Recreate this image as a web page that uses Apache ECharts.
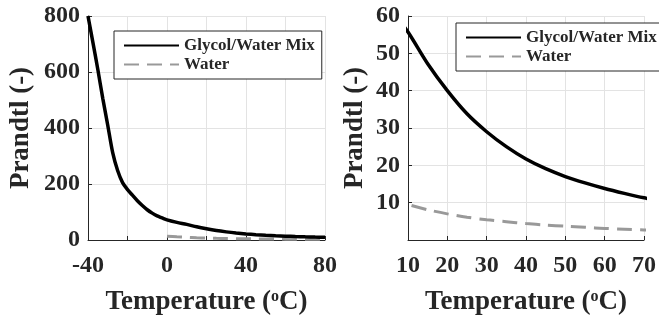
<!DOCTYPE html>
<html>
<head>
<meta charset="utf-8">
<script src="https://cdn.jsdelivr.net/npm/echarts@6/dist/echarts.min.js"></script>
<style>
html,body{margin:0;padding:0;background:#fff;}
#chart{width:659px;height:321px;}
</style>
</head>
<body>
<div id="chart"></div>
<script>
// ---- data ----
const glycolTemp = [-40, -37.5, -35, -32.5, -30, -27.5, -25, -22.5, -20, -17.5, -15, -12.5, -10, -7.5, -5, -2.5, 0, 5, 10, 15, 20, 25, 30, 35, 40, 45, 50, 55, 60, 65, 70, 75, 80];
const glycolPr   = [800, 705, 608, 505, 410, 312, 248, 205, 180, 160, 140, 123, 108, 96, 86, 79, 72, 63, 55.7, 47.2, 40, 33.8, 29, 25, 21.7, 19.1, 17, 15.3, 13.8, 12.5, 11.3, 10.3, 9.5];
const waterTemp  = [0, 5, 10, 15, 20, 25, 30, 35, 40, 45, 50, 55, 60, 65, 70, 75, 80];
const waterPr    = [13.5, 11.2, 9.5, 8.1, 7.0, 6.1, 5.4, 4.9, 4.4, 4.0, 3.7, 3.4, 3.1, 2.9, 2.7, 2.5, 2.3];
const seriesNames = ['Glycol/Water Mix', 'Water'];
const leftXTicks  = {min: -40, max: 80, interval: 20, labelEvery: 40};
const leftYTicks  = {min: 0, max: 800, interval: 200};
const rightXTicks = {min: 10, max: 70, interval: 10};
const rightYTicks = {min: 0, max: 60, interval: 10};
const xTitle = 'Temperature (';
const yTitle = 'Prandtl (-)';

const pairs = (xs, ys) => xs.map((x, i) => [x, ys[i]]);
const FONT = 'Liberation Serif';
const TXT = '#262626';
const GRIDC = '#e3e3e3';

function xAxis(idx, t, fmt) {
  return {
    type: 'value', gridIndex: idx, min: t.min, max: t.max, interval: t.interval,
    name: xTitle + '{sup|o}C)', nameLocation: 'middle', nameGap: 49,
    nameTextStyle: {fontFamily: FONT, fontWeight: 'bold', fontSize: 27, color: TXT,
      rich: {sup: {fontFamily: FONT, fontWeight: 'bold', fontSize: 16, color: TXT, verticalAlign: 'top', lineHeight: 11}}},
    axisLine: {show: true, onZero: false, lineStyle: {color: TXT, width: 1}},
    axisTick: {show: true, inside: true, length: 4, lineStyle: {color: TXT}},
    axisLabel: {fontFamily: FONT, fontWeight: 'bold', fontSize: 24, color: TXT, margin: 14, formatter: fmt},
    splitLine: {show: true, lineStyle: {color: GRIDC, width: 1}}
  };
}
function yAxis(idx, t, gap, hideMin) {
  return {
    type: 'value', gridIndex: idx, min: t.min, max: t.max, interval: t.interval,
    name: yTitle, nameLocation: 'middle', nameGap: gap, nameRotate: 90,
    nameTextStyle: {fontFamily: FONT, fontWeight: 'bold', fontSize: 27, color: TXT},
    axisLine: {show: true, onZero: false, lineStyle: {color: TXT, width: 1}},
    axisTick: {show: true, inside: true, length: 4, lineStyle: {color: TXT}},
    axisLabel: {fontFamily: FONT, fontWeight: 'bold', fontSize: 24, color: TXT, margin: 8, showMinLabel: !hideMin},
    splitLine: {show: true, lineStyle: {color: GRIDC, width: 1}}
  };
}
function legend(left, top) {
  return {
    data: seriesNames, orient: 'vertical', left: left, top: top,
    backgroundColor: '#fff', borderColor: TXT, borderWidth: 1, borderRadius: 0,
    padding: [6, 7, 6, 9], itemWidth: 55, itemHeight: 14, itemGap: 2,
    itemStyle: {opacity: 0},
    textStyle: {fontFamily: FONT, fontWeight: 'bold', fontSize: 17, color: TXT, lineHeight: 16},
    selectedMode: false
  };
}
const glyStyle = {color: '#000', width: 3.5, type: 'solid'};
const watStyle = {color: '#999999', width: 3, type: [15, 8]};

const chart = echarts.init(document.getElementById('chart'), null, {renderer: 'canvas'});
chart.setOption({
  animation: false,
  grid: [
    {left: 88, top: 16, width: 237, height: 225},
    {left: 408, top: 16, width: 238, height: 225}
  ],
  xAxis: [
    xAxis(0, leftXTicks, v => (v % leftXTicks.labelEvery === 0 ? String(v) : '')),
    xAxis(1, rightXTicks, v => String(v))
  ],
  yAxis: [
    yAxis(0, leftYTicks, 53, false),
    yAxis(1, rightYTicks, 39, true)
  ],
  legend: [legend(114, 31), legend(456, 23)],
  series: [
    {name: seriesNames[0], type: 'line', xAxisIndex: 0, yAxisIndex: 0, data: pairs(glycolTemp, glycolPr),
     symbol: 'none', smooth: 0.3, lineStyle: glyStyle, itemStyle: {color: '#000'}, z: 3},
    {name: seriesNames[1], type: 'line', xAxisIndex: 0, yAxisIndex: 0, data: pairs(waterTemp, waterPr),
     symbol: 'none', smooth: 0.3, lineStyle: watStyle, itemStyle: {color: '#999999'}, z: 2},
    {name: seriesNames[0], type: 'line', xAxisIndex: 1, yAxisIndex: 1, data: pairs(glycolTemp, glycolPr),
     symbol: 'none', smooth: 0.3, lineStyle: glyStyle, itemStyle: {color: '#000'}, z: 3},
    {name: seriesNames[1], type: 'line', xAxisIndex: 1, yAxisIndex: 1, data: pairs(waterTemp, waterPr),
     symbol: 'none', smooth: 0.3, lineStyle: watStyle, itemStyle: {color: '#999999'}, z: 2}
  ]
});
</script>
</body>
</html>
